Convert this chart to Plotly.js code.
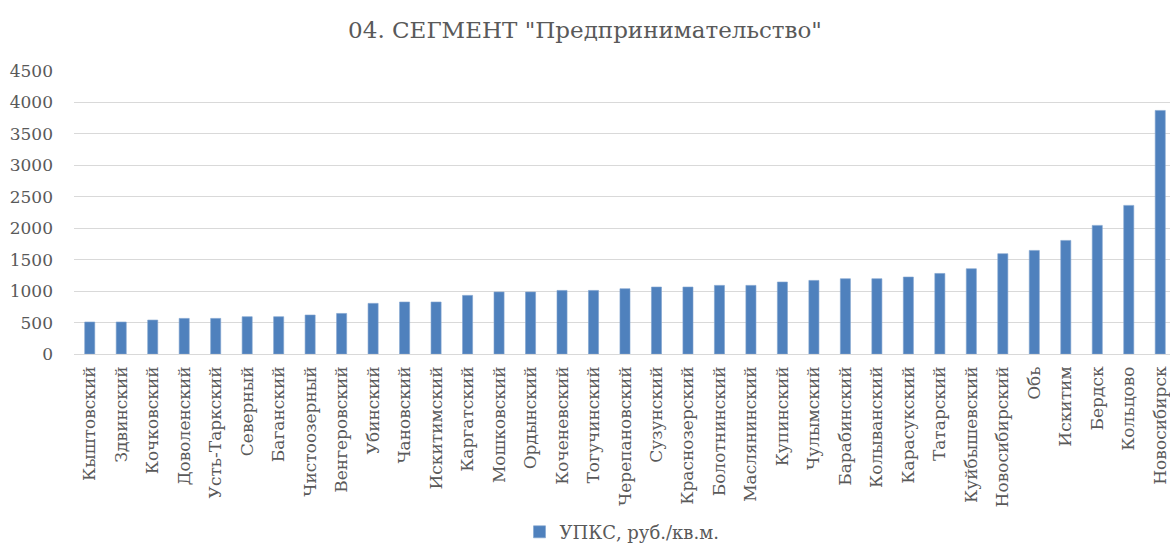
<!DOCTYPE html>
<html><head><meta charset="utf-8">
<script src="https://cdn.plot.ly/plotly-3.0.1.min.js"></script>
<style>html,body{margin:0;padding:0;background:#fff}#chart{width:1170px;height:543px}</style>
</head><body><div id="chart"></div>
<script>
const categories = ["Кыштовский","Здвинский","Кочковский","Доволенский","Усть-Таркский","Северный","Баганский","Чистоозерный","Венгеровский","Убинский","Чановский","Искитимский","Каргатский","Мошковский","Ордынский","Коченевский","Тогучинский","Черепановский","Сузунский","Краснозерский","Болотнинский","Маслянинский","Купинский","Чулымский","Барабинский","Колыванский","Карасукский","Татарский","Куйбышевский","Новосибирский","Обь","Искитим","Бердск","Кольцово","Новосибирск"];
const values = [509,509,540,566,566,593,593,620,645,805,827,827,932,986,986,1011,1011,1038,1065,1065,1091,1091,1145,1170,1197,1197,1224,1281,1356,1595,1647,1806,2045,2363,3873];
const seriesName = "УПКС, руб./кв.м.";
const chartTitle = '04. СЕГМЕНТ "Предпринимательство"';
const yTicks = [0,500,1000,1500,2000,2500,3000,3500,4000,4500];

const fontFam = 'DejaVu Serif, serif';
Plotly.newPlot('chart', [{
  type: 'bar', x: categories, y: values, name: seriesName,
  marker: {color: '#4f81bd', line: {color: '#7fa2cf', width: 0.6}},
  showlegend: true
}], {
  width: 1170, height: 543,
  margin: {l: 74, r: 0, t: 71, b: 189},
  paper_bgcolor: '#fff', plot_bgcolor: '#fff',
  font: {family: fontFam},
  title: {text: chartTitle, x: 0.5, xanchor: 'center', y: 0.945, yanchor: 'middle',
    font: {family: fontFam, size: 23, color: '#595959'}},
  bargap: 0.68,
  xaxis: {type: 'category', range: [-0.5, 34.31], tickangle: -90, automargin: false,
    tickfont: {family: fontFam, size: 17, color: '#595959'},
    showgrid: false, zeroline: false, showline: false, ticks: '', ticklabelstandoff: 8},
  yaxis: {range: [0, 4500], tickvals: yTicks, ticktext: yTicks.map(String), automargin: false,
    tickfont: {family: fontFam, size: 17, color: '#595959'},
    gridcolor: '#d9d9d9', gridwidth: 1, zeroline: true, zerolinecolor: '#d9d9d9', zerolinewidth: 1,
    showline: false, ticks: '', ticklabelstandoff: 20},
  legend: {orientation: 'h', x: 0.5, xanchor: 'center', xref: 'paper', yref: 'container', y: 0.02, yanchor: 'middle',
    font: {family: fontFam, size: 18, color: '#595959'}, itemwidth: 30}
}, {displayModeBar: false, staticPlot: true});
</script></body></html>
